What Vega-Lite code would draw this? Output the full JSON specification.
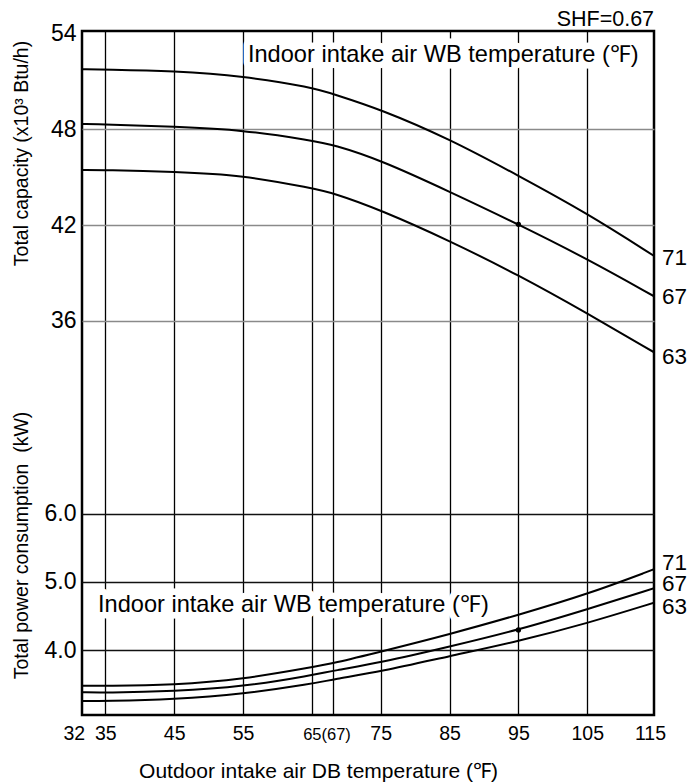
{
  "$schema": "https://vega.github.io/schema/vega-lite/v6.json",
  "width": 572,
  "height": 684,
  "autosize": "none",
  "padding": {"left": 82, "top": 31, "right": 38, "bottom": 67},
  "background": "white",
  "config": {
    "view": {"stroke": "#000", "strokeWidth": 2.5},
    "axis": {"labelFont": "Liberation Sans", "titleFont": "Liberation Sans", "labelColor": "#000", "titleColor": "#000", "titleFontWeight": "normal"},
    "text": {"font": "Liberation Sans", "color": "#000"}
  },
  "datasets": {
    "capLines": [
      {"x": 31.62, "cap": 51.77, "wb": "71"}, {"x": 35, "cap": 51.75, "wb": "71"}, {"x": 45, "cap": 51.66, "wb": "71"}, {"x": 55, "cap": 51.35, "wb": "71"}, {"x": 65, "cap": 50.64, "wb": "71"}, {"x": 68.1, "cap": 50.22, "wb": "71"}, {"x": 75, "cap": 49.26, "wb": "71"}, {"x": 85, "cap": 47.4, "wb": "71"}, {"x": 95, "cap": 45.1, "wb": "71"}, {"x": 105, "cap": 42.74, "wb": "71"}, {"x": 114.7, "cap": 40.07, "wb": "71"},
      {"x": 31.62, "cap": 48.34, "wb": "67"}, {"x": 35, "cap": 48.32, "wb": "67"}, {"x": 45, "cap": 48.17, "wb": "67"}, {"x": 55, "cap": 47.97, "wb": "67"}, {"x": 65, "cap": 47.3, "wb": "67"}, {"x": 68.1, "cap": 47.05, "wb": "67"}, {"x": 75, "cap": 46.08, "wb": "67"}, {"x": 85, "cap": 44.1, "wb": "67"}, {"x": 95, "cap": 42.05, "wb": "67"}, {"x": 105, "cap": 39.88, "wb": "67"}, {"x": 114.7, "cap": 37.54, "wb": "67"},
      {"x": 31.62, "cap": 45.46, "wb": "63"}, {"x": 35, "cap": 45.46, "wb": "63"}, {"x": 45, "cap": 45.35, "wb": "63"}, {"x": 55, "cap": 45.14, "wb": "63"}, {"x": 65, "cap": 44.31, "wb": "63"}, {"x": 68.1, "cap": 44.02, "wb": "63"}, {"x": 75, "cap": 42.95, "wb": "63"}, {"x": 85, "cap": 41.02, "wb": "63"}, {"x": 95, "cap": 38.87, "wb": "63"}, {"x": 105, "cap": 36.47, "wb": "63"}, {"x": 114.7, "cap": 34.03, "wb": "63"}
    ],
    "kwLines": [
      {"x": 31.62, "kw": 3.478, "wb": "71"}, {"x": 35, "kw": 3.474, "wb": "71"}, {"x": 45, "kw": 3.488, "wb": "71"}, {"x": 55, "kw": 3.572, "wb": "71"}, {"x": 65, "kw": 3.748, "wb": "71"}, {"x": 68.1, "kw": 3.806, "wb": "71"}, {"x": 75, "kw": 3.977, "wb": "71"}, {"x": 85, "kw": 4.232, "wb": "71"}, {"x": 95, "kw": 4.515, "wb": "71"}, {"x": 105, "kw": 4.818, "wb": "71"}, {"x": 114.7, "kw": 5.185, "wb": "71"},
      {"x": 31.62, "kw": 3.381, "wb": "67"}, {"x": 35, "kw": 3.375, "wb": "67"}, {"x": 45, "kw": 3.396, "wb": "67"}, {"x": 55, "kw": 3.463, "wb": "67"}, {"x": 65, "kw": 3.63, "wb": "67"}, {"x": 68.1, "kw": 3.698, "wb": "67"}, {"x": 75, "kw": 3.815, "wb": "67"}, {"x": 85, "kw": 4.05, "wb": "67"}, {"x": 95, "kw": 4.295, "wb": "67"}, {"x": 105, "kw": 4.598, "wb": "67"}, {"x": 114.7, "kw": 4.906, "wb": "67"},
      {"x": 31.62, "kw": 3.254, "wb": "63"}, {"x": 35, "kw": 3.254, "wb": "63"}, {"x": 45, "kw": 3.279, "wb": "63"}, {"x": 55, "kw": 3.356, "wb": "63"}, {"x": 65, "kw": 3.503, "wb": "63"}, {"x": 68.1, "kw": 3.572, "wb": "63"}, {"x": 75, "kw": 3.683, "wb": "63"}, {"x": 85, "kw": 3.913, "wb": "63"}, {"x": 95, "kw": 4.129, "wb": "63"}, {"x": 105, "kw": 4.393, "wb": "63"}, {"x": 114.7, "kw": 4.695, "wb": "63"}
    ],
    "capDot": [{"x": 95, "cap": 42.05}],
    "kwDot": [{"x": 95, "kw": 4.295}],
    "capLabels": [
      {"x": 114.7, "cap": 39.96, "label": "71"},
      {"x": 114.7, "cap": 37.51, "label": "67"},
      {"x": 114.7, "cap": 33.75, "label": "63"}
    ],
    "kwLabels": [
      {"x": 114.7, "kw": 5.277, "label": "71"},
      {"x": 114.7, "kw": 4.965, "label": "67"},
      {"x": 114.7, "kw": 4.636, "label": "63"}
    ],
    "capNote": [{"x": 55.72, "cap": 52.21, "label": "Indoor intake air WB temperature (℉)"}],
    "shfNote": [{"x": 114.7, "cap": 54.49, "label": "SHF=0.67"}],
    "kwNote": [{"x": 33.94, "kw": 4.559, "label": "Indoor intake air WB temperature (℉)"}]
  },
  "encoding": {
    "x": {
      "field": "x",
      "type": "quantitative",
      "scale": {"domain": [31.62, 114.69], "nice": false, "zero": false},
      "axis": {
        "orient": "bottom",
        "values": [32, 35, 45, 55, 65, 68, 75, 85, 95, 105, 114.69],
        "labelExpr": "datum.value == 65 ? '' : datum.value == 68 ? '65(67)' : datum.value > 114 ? '115' : datum.label",
        "title": "Outdoor intake air DB temperature (℉)",
        "grid": true,
        "gridColor": {"condition": {"test": "datum.value == 32 || datum.value > 114", "value": "transparent"}, "value": "#000"},
        "gridWidth": 1.3,
        "domain": false,
        "ticks": false,
        "tickSize": 0,
        "labelPadding": 24,
        "labelBaseline": "alphabetic",
        "labelFontSize": {"condition": {"test": "datum.value == 68", "value": 16.5}, "value": 19.5},
        "labelOffset": {"condition": [{"test": "datum.value == 68", "value": -6}, {"test": "datum.value > 114", "value": -4}], "value": 0},
        "labelAlign": {"condition": {"test": "datum.value == 32", "value": "right"}, "value": "center"},
        "labelFlush": false,
        "labelOverlap": false,
        "labelBound": false,
        "titleFontSize": 21,
        "titleX": 236,
        "titleY": 62,
        "titleAlign": "center",
        "titleBaseline": "alphabetic"
      }
    }
  },
  "layer": [
    {
      "encoding": {
        "y": {
          "field": "cap",
          "type": "quantitative",
          "scale": {"domain": [11.29, 54.17], "nice": false, "zero": false},
          "axis": {
            "orient": "left",
            "values": [36, 42, 48, 54],
            "grid": true,
            "gridColor": {"condition": {"test": "datum.value == 54", "value": "transparent"}, "value": "#8a8a8a"},
            "gridWidth": 1.6,
            "domain": false,
            "ticks": false,
            "tickSize": 0,
            "labelPadding": 6,
            "labelFontSize": 23,
            "labelOverlap": false,
            "labelFlush": false,
            "title": "Total capacity (x10³ Btu/h)",
            "titleFontSize": 19.5,
            "titleX": -61,
            "titleY": 122,
            "titleAngle": -90,
            "titleAlign": "center",
            "titleBaseline": "middle"
          }
        }
      },
      "layer": [
        {"data": {"name": "capNote"}, "mark": {"type": "text", "align": "left", "baseline": "alphabetic", "fontSize": 23.6, "fill": "white", "stroke": "white", "strokeWidth": 13, "strokeJoin": "round"}, "encoding": {"text": {"field": "label", "type": "nominal"}}},
        {"data": {"name": "capNote"}, "mark": {"type": "text", "align": "left", "baseline": "alphabetic", "fontSize": 23.6, "color": "#000"}, "encoding": {"text": {"field": "label", "type": "nominal"}}},
        {"data": {"name": "capLines"}, "mark": {"type": "line", "color": "#000", "strokeWidth": 2, "interpolate": "basis", "clip": true}, "encoding": {"detail": {"field": "wb", "type": "nominal"}}},
        {"data": {"name": "capDot"}, "mark": {"type": "circle", "color": "#000", "size": 28, "opacity": 1}},
        {"data": {"name": "capLabels"}, "mark": {"type": "text", "align": "left", "baseline": "middle", "dx": 8, "fontSize": 22.5, "color": "#000"}, "encoding": {"text": {"field": "label", "type": "nominal"}}},
        {"data": {"name": "shfNote"}, "mark": {"type": "text", "align": "right", "baseline": "alphabetic", "fontSize": 21.5, "color": "#000"}, "encoding": {"text": {"field": "label", "type": "nominal"}}}
      ]
    },
    {
      "encoding": {
        "y": {
          "field": "kw",
          "type": "quantitative",
          "scale": {"domain": [3.048, 13.078], "nice": false, "zero": false},
          "axis": {
            "orient": "left",
            "values": [4, 5, 6],
            "format": ".1f",
            "grid": true,
            "gridColor": "#111",
            "gridWidth": 1.3,
            "domain": false,
            "ticks": false,
            "tickSize": 0,
            "labelPadding": 6,
            "labelFontSize": 23,
            "labelOverlap": false,
            "labelFlush": false,
            "title": "Total power consumption\u00a0 (kW)",
            "titleFontSize": 19.5,
            "titleX": -61,
            "titleY": 514,
            "titleAngle": -90,
            "titleAlign": "center",
            "titleBaseline": "middle"
          }
        }
      },
      "layer": [
        {"data": {"name": "kwNote"}, "mark": {"type": "text", "align": "left", "baseline": "alphabetic", "fontSize": 23.6, "fill": "white", "stroke": "white", "strokeWidth": 13, "strokeJoin": "round"}, "encoding": {"text": {"field": "label", "type": "nominal"}}},
        {"data": {"name": "kwNote"}, "mark": {"type": "text", "align": "left", "baseline": "alphabetic", "fontSize": 23.6, "color": "#000"}, "encoding": {"text": {"field": "label", "type": "nominal"}}},
        {"data": {"name": "kwLines"}, "mark": {"type": "line", "color": "#000", "strokeWidth": 2, "interpolate": "basis", "clip": true}, "encoding": {"detail": {"field": "wb", "type": "nominal"}}},
        {"data": {"name": "kwDot"}, "mark": {"type": "circle", "color": "#000", "size": 28, "opacity": 1}},
        {"data": {"name": "kwLabels"}, "mark": {"type": "text", "align": "left", "baseline": "middle", "dx": 8, "fontSize": 22.5, "color": "#000"}, "encoding": {"text": {"field": "label", "type": "nominal"}}}
      ]
    }
  ],
  "resolve": {"scale": {"y": "independent"}, "axis": {"y": "independent"}}
}
